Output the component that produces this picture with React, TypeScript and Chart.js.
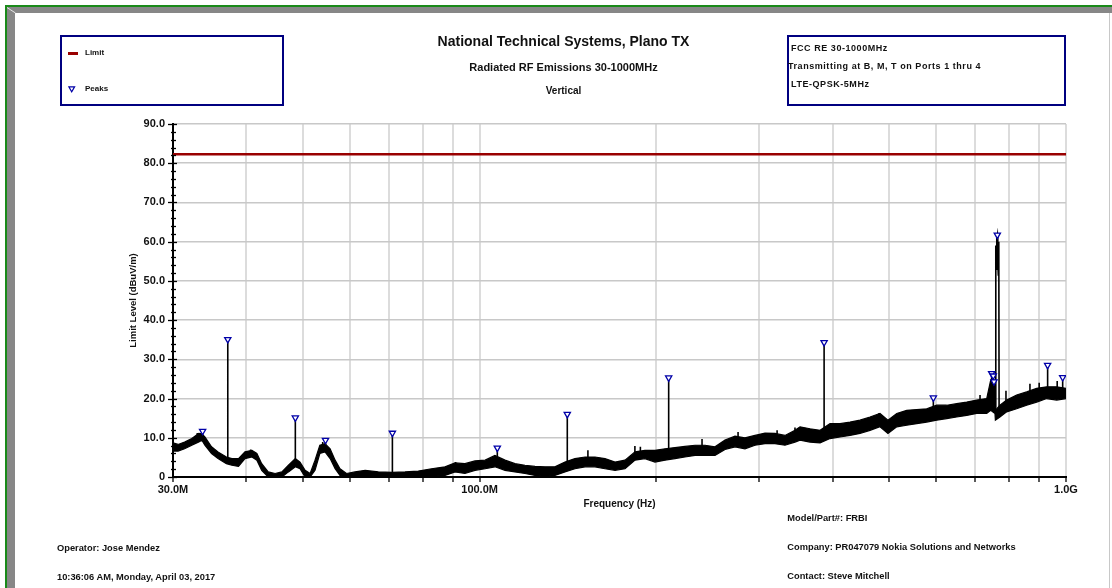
import React, { useEffect, useRef } from 'react';
import { Chart, registerables } from 'chart.js';

Chart.register(...registerables);

const FONT = "'Liberation Sans', Arial, Helvetica, sans-serif";

// Measured trace envelope (frequency in MHz, level in dBuV/m)
const traceFreqMHz = [
  30.0, 30.6, 31.4, 32.3, 33.2, 33.6, 34.0, 34.9, 35.8, 37.0, 37.8, 38.8, 39.8, 40.9, 41.7, 42.5,
  43.6, 44.8, 46.0, 47.2, 48.5, 49.4, 50.4, 51.4, 52.4, 53.4, 54.5, 55.6, 56.7, 57.8, 59.3, 61.3,
  63.8, 67.2, 71.0, 74.6, 78.6, 82.8, 87.3, 90.8, 94.4, 98.2, 102.2, 106.2, 110.5, 114.9, 119.5,
  124.3, 129.3, 134.4, 139.8, 145.4, 151.3, 157.3, 163.6, 170.2, 177.0, 184.1, 191.4, 199.1, 207.1,
  215.4, 224.0, 233.0, 242.3, 252.0, 262.1, 272.6, 283.5, 294.9, 306.7, 318.9, 331.7, 345.0, 351.9,
  366.0, 380.7, 395.9, 411.7, 428.2, 445.3, 463.2, 481.7, 497.0, 514.5, 535.0, 556.4, 578.7, 601.8,
  626.0, 651.0, 677.1, 704.3, 732.5, 744.0, 756.6, 757.8, 771.5, 792.1, 823.8, 856.9, 891.2, 927.0,
  964.2, 1000.0,
];
const traceHigh = [
  8.7, 8.3, 8.9, 9.8, 11.1, 11.0, 10.2, 7.7, 6.4, 5.1, 4.7, 4.7, 6.4, 6.8, 6.0, 3.4,
  1.3, 0.9, 1.3, 3.0, 4.7, 3.8, 1.7, 0.9, 4.3, 8.1, 8.5, 7.2, 4.3, 2.1, 0.9, 1.3,
  1.7, 1.3, 1.2, 1.3, 1.5, 2.1, 2.6, 3.6, 3.4, 4.1, 4.3, 5.5, 4.3, 3.4, 3.0,
  2.7, 2.6, 2.6, 3.8, 4.7, 5.1, 5.1, 4.7, 3.8, 4.3, 6.4, 6.8, 6.8, 7.2,
  7.5, 7.8, 8.1, 8.1, 7.7, 9.4, 10.4, 10.0, 10.6, 11.2, 11.1, 10.6, 11.9, 12.8,
  12.3, 11.9, 13.6, 13.6, 14.0, 14.5, 15.3, 16.2, 14.5, 16.2, 17.0, 17.2, 17.4, 18.3,
  18.3, 18.7, 19.1, 19.6, 20.0, 24.7, 24.7, 17.0, 18.3, 19.6, 20.9, 21.7, 22.6, 23.0,
  23.0, 22.6,
];
const traceLow = [
  6.6, 6.6, 7.2, 8.1, 8.9, 9.4, 8.1, 6.0, 4.7, 3.4, 3.0, 2.7, 4.7, 5.1, 4.3, 1.7,
  0.0, 0.0, 0.0, 1.3, 2.6, 2.1, 0.0, 0.0, 1.7, 6.0, 6.4, 4.7, 2.1, 0.4, 0.0, 0.0,
  0.0, 0.0, 0.0, 0.0, 0.0, 0.2, 0.4, 1.3, 0.9, 1.7, 2.1, 2.6, 1.7, 1.3, 0.9,
  0.4, 0.2, 0.4, 1.3, 2.1, 2.6, 2.6, 2.1, 1.7, 2.1, 4.3, 4.7, 3.8, 4.3,
  4.7, 5.1, 5.5, 5.5, 5.5, 7.0, 7.7, 7.2, 8.1, 8.5, 8.5, 8.1, 8.9, 9.4,
  8.9, 8.7, 9.8, 10.2, 10.6, 11.1, 11.9, 12.8, 11.1, 12.8, 13.2, 13.6, 14.0, 14.5,
  14.9, 15.3, 15.7, 16.2, 16.2, 17.0, 16.2, 14.5, 15.3, 16.6, 17.4, 18.3, 19.1, 20.0,
  19.6, 20.0,
];

// Short noise spikes standing above the trace
const grassFreqMHz = [33.0, 40.7, 54.0, 91.0, 153.0, 184.0, 188.0, 239.5, 275.9, 321.6, 345.0, 480.0, 713.5, 790.0, 868.0, 900.0, 966.0];
const grassBase = [10.0, 6.0, 7.5, 2.0, 4.5, 5.0, 5.0, 7.0, 9.0, 9.5, 10.5, 14.0, 18.0, 18.0, 20.0, 20.5, 21.0];
const grassTop = [11.2, 7.0, 8.9, 3.8, 6.8, 7.9, 7.7, 9.7, 11.5, 11.9, 12.6, 16.3, 20.9, 22.0, 23.8, 24.0, 24.5];

// Peak markers
const peakFreqMHz = [33.7, 37.2, 48.5, 54.6, 71.0, 107.2, 141.1, 210.1, 386.8, 594.0, 746.8, 751.5, 753.6, 763.6, 930.4, 987.0];
const peakLevel = [11.7, 35.1, 15.1, 9.4, 11.2, 7.4, 16.0, 25.3, 34.3, 20.2, 26.4, 25.8, 24.3, 61.7, 28.5, 25.4];
const spikeBase = [10.5, 3.5, 3.0, 8.0, 0.3, 4.5, 2.0, 5.0, 10.0, 16.5, 20.0, 20.0, 20.0, 61.7, 21.0, 21.5];

// Carrier burst around 760-770 MHz
const carrierFreqMHz = [757.8, 758.6, 759.5, 760.6, 762.0, 763.6, 765.0, 766.6, 767.5, 768.6, 769.0];
const carrierLevel = [16.0, 59.0, 54.0, 53.0, 61.0, 61.7, 55.0, 51.5, 58.0, 60.0, 15.3];

// Limit line
const limitFreqMHz = [30, 1000];
const limitLevel = [82.3, 82.3];

// Axis ticks
const xTickValues = [30, 40, 50, 60, 70, 80, 90, 100, 200, 300, 400, 500, 600, 700, 800, 900, 1000];
const xTickLabels: Record<number, string> = { 30: '30.0M', 100: '100.0M', 1000: '1.0G' };

const yTicksPlugin = {
  id: 'yCrossTicks',
  afterDraw(chart: any) {
    const y = chart.scales.y;
    const ctx = chart.ctx;
    const x0 = chart.chartArea.left;
    ctx.save();
    ctx.strokeStyle = '#000';
    ctx.lineWidth = 1.3;
    y.ticks.forEach((t: any) => {
      const py = Math.round(y.getPixelForValue(t.value)) + 0.5;
      const major = t.value % 10 === 0;
      ctx.beginPath();
      ctx.moveTo(x0 - (major ? 5 : 2), py);
      ctx.lineTo(x0 + (major ? 4 : 3), py);
      ctx.stroke();
    });
    ctx.restore();
  },
};

function Txt(props: { x: number; y: number; size: number; children: any; center?: boolean; spacing?: number }) {
  const { x, y, size, children, center, spacing } = props;
  const lh = Math.round(size * 1.25);
  const style: any = {
    position: 'absolute',
    top: y - lh / 2,
    fontSize: size,
    lineHeight: lh + 'px',
    fontWeight: 'bold',
    color: '#111',
    whiteSpace: 'nowrap',
    letterSpacing: spacing ? spacing + 'px' : undefined,
    fontFamily: FONT,
  };
  if (center) {
    style.left = x - 300;
    style.width = 600;
    style.textAlign = 'center';
  } else {
    style.left = x;
  }
  return <div style={style}>{children}</div>;
}

export default function App() {
  const canvasRef = useRef<HTMLCanvasElement | null>(null);

  useEffect(() => {
    if (!canvasRef.current) return;
    const hiData = traceFreqMHz.map((f, i) => ({ x: f, y: traceHigh[i] }));
    const loData = traceFreqMHz.map((f, i) => ({ x: f, y: traceLow[i] }));
    const spikeData: any[] = [];
    peakFreqMHz.forEach((f, i) => {
      spikeData.push({ x: f, y: spikeBase[i] }, { x: f, y: peakLevel[i] }, { x: f, y: null });
    });
    grassFreqMHz.forEach((f, i) => {
      spikeData.push({ x: f, y: grassBase[i] }, { x: f, y: grassTop[i] }, { x: f, y: null });
    });
    const carrierData = carrierFreqMHz.map((f, i) => ({ x: f, y: carrierLevel[i] }));
    const limitData = limitFreqMHz.map((f, i) => ({ x: f, y: limitLevel[i] }));
    const peakData = peakFreqMHz.map((f, i) => ({ x: f, y: peakLevel[i] }));

    const chart = new Chart(canvasRef.current, {
      type: 'line',
      data: {
        datasets: [
          { label: 'Trace max', data: hiData, borderColor: '#000', borderWidth: 1.2, pointRadius: 0, fill: '+1', backgroundColor: '#000', order: 5 },
          { label: 'Trace min', data: loData, borderColor: '#000', borderWidth: 1.2, pointRadius: 0, fill: false, order: 4 },
          { label: 'Spikes', data: spikeData, borderColor: '#000', borderWidth: 1.6, pointRadius: 0, spanGaps: false, fill: false, order: 3 },
          { label: 'Carrier', data: carrierData, borderColor: '#000', borderWidth: 1.6, pointRadius: 0, fill: false, order: 2 },
          { label: 'Limit', data: limitData, borderColor: '#990000', borderWidth: 2.5, pointRadius: 0, fill: false, order: 1 },
          {
            label: 'Peaks', data: peakData, showLine: false, pointStyle: 'triangle', rotation: 180,
            pointRadius: 3.6, pointBorderWidth: 1.3, pointBorderColor: '#0000a8', pointBackgroundColor: '#ffffff',
            borderColor: '#0000a8', backgroundColor: '#ffffff', order: 0,
          },
        ] as any,
      },
      options: {
        responsive: false,
        animation: false,
        events: [],
        layout: { padding: { left: 120, top: 124, right: 46, bottom: 76 } },
        plugins: { legend: { display: false }, tooltip: { enabled: false } },
        scales: {
          x: {
            type: 'logarithmic',
            min: 30,
            max: 1000,
            position: 'bottom',
            afterBuildTicks: (s: any) => { s.ticks = xTickValues.map((v) => ({ value: v })); },
            afterFit: (s: any) => { s.height = 35; },
            ticks: {
              autoSkip: false, maxRotation: 0, minRotation: 0, padding: 1, color: '#111',
              font: { family: FONT, size: 11, weight: 'bold' },
              callback: (v: any) => xTickLabels[Number(v)] ?? '',
            },
            grid: { color: '#dcdcdc', lineWidth: 2, tickColor: '#000', tickLength: 5, tickWidth: 1.3 },
            border: { color: '#000', width: 2 },
            title: { display: true, text: 'Frequency (Hz)', color: '#111', font: { family: FONT, size: 10, weight: 'bold' }, padding: { top: 0, bottom: 2 } },
          },
          y: {
            type: 'linear',
            min: 0,
            max: 90,
            afterFit: (s: any) => { s.width = 53; },
            ticks: {
              stepSize: 2, autoSkip: false, padding: 3, color: '#111',
              font: { family: FONT, size: 11, weight: 'bold' },
              callback: (v: any) => (Number(v) % 10 === 0 ? (Number(v) === 0 ? '0' : Number(v).toFixed(1)) : ''),
            },
            grid: {
              color: (c: any) => (c.tick && c.tick.value % 10 === 0 ? '#c8c8c8' : 'rgba(0,0,0,0)'),
              lineWidth: 1.5, tickColor: 'rgba(0,0,0,0)', tickLength: 5,
            },
            border: { color: '#000', width: 2 },
            title: { display: true, text: 'Limit Level (dBuV/m)', color: '#111', font: { family: FONT, size: 9.5, weight: 'bold' }, padding: { top: 8, bottom: 0 } },
          },
        },
      } as any,
      plugins: [yTicksPlugin],
    });
    return () => chart.destroy();
  }, []);

  return (
    <div style={{ position: 'fixed', left: 0, top: 0, width: 1112, height: 588, background: '#fff', overflow: 'hidden', fontFamily: FONT }}>
      {/* frame */}
      <div style={{ position: 'absolute', left: 5, top: 5, width: 1107, height: 2, background: '#1a8a1a' }} />
      <div style={{ position: 'absolute', left: 5, top: 5, width: 2, height: 583, background: '#1a8a1a' }} />
      <div style={{ position: 'absolute', left: 7, top: 7, width: 1105, height: 6, background: '#878787' }} />
      <div style={{ position: 'absolute', left: 7, top: 7, width: 8, height: 581, background: '#878787' }} />
      <svg style={{ position: 'absolute', left: 7, top: 7 }} width={9} height={7}>
        <line x1={0} y1={0.5} x2={8.5} y2={6} stroke="#e8e8e8" strokeWidth={1} />
      </svg>
      <div style={{ position: 'absolute', left: 1109, top: 13, width: 1, height: 575, background: '#c8c8c8' }} />

      <canvas ref={canvasRef} width={1112} height={588} style={{ position: 'absolute', left: 0, top: 0, display: 'block' }} />

      {/* titles */}
      <Txt x={563.5} y={40.7} size={14} center>National Technical Systems, Plano TX</Txt>
      <Txt x={563.5} y={67} size={11} center>Radiated RF Emissions 30-1000MHz</Txt>
      <Txt x={563.5} y={90} size={10} center>Vertical</Txt>

      {/* legend box */}
      <div style={{ position: 'absolute', left: 60, top: 35, width: 224, height: 71, border: '2px solid #000080', boxSizing: 'border-box' }} />
      <div style={{ position: 'absolute', left: 68, top: 52, width: 10, height: 2.5, background: '#990000' }} />
      <Txt x={85} y={53.3} size={8}>Limit</Txt>
      <svg style={{ position: 'absolute', left: 68, top: 86 }} width={8} height={7}>
        <polygon points="0.8,0.8 6.6,0.8 3.7,5.8" fill="#fff" stroke="#0000a8" strokeWidth={1.2} />
      </svg>
      <Txt x={85} y={89.3} size={8}>Peaks</Txt>

      {/* info box */}
      <div style={{ position: 'absolute', left: 787, top: 35, width: 279, height: 71, border: '2px solid #000080', boxSizing: 'border-box' }} />
      <Txt x={791} y={48} size={9} spacing={0.55}>FCC RE 30-1000MHz</Txt>
      <Txt x={788} y={66.3} size={9} spacing={0.55}>Transmitting at B, M, T on Ports 1 thru 4</Txt>
      <Txt x={791} y={84.7} size={9} spacing={0.55}>LTE-QPSK-5MHz</Txt>

      {/* footer */}
      <Txt x={57} y={547.7} size={9.3}>Operator: Jose Mendez</Txt>
      <Txt x={57} y={576.7} size={9.3}>10:36:06 AM, Monday, April 03, 2017</Txt>
      <Txt x={787.3} y={518.3} size={9.3}>Model/Part#: FRBI</Txt>
      <Txt x={787.3} y={546.7} size={9.3}>Company: PR047079 Nokia Solutions and Networks</Txt>
      <Txt x={787.3} y={576} size={9.3}>Contact: Steve Mitchell</Txt>
    </div>
  );
}
